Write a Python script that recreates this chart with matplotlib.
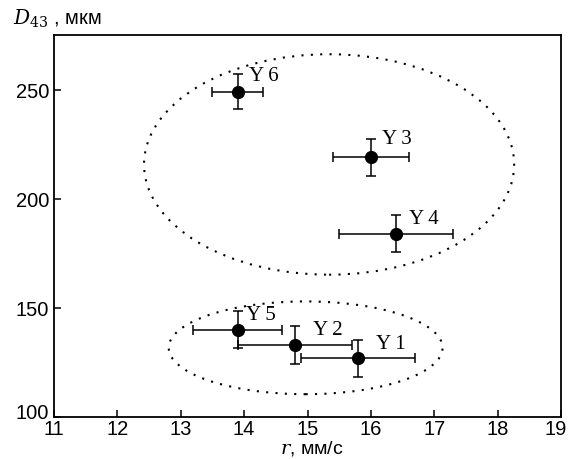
import matplotlib
matplotlib.use("Agg")
import matplotlib.pyplot as plt
from matplotlib.patches import Ellipse
import matplotlib.transforms as mtransforms

plt.rcParams['font.family'] = ['Liberation Sans', 'DejaVu Sans']
plt.rcParams['mathtext.fontset'] = 'dejavuserif'

labels = ['Y1', 'Y2', 'Y3', 'Y4', 'Y5', 'Y6']
r = [15.8, 14.8, 16.0, 16.4, 13.9, 13.9]
d43 = [127, 133, 219, 184, 140, 249]
r_lo = [14.9, 13.9, 15.4, 15.5, 13.2, 13.5]
r_hi = [16.7, 15.7, 16.6, 17.3, 14.6, 14.3]
d_err = [8.5, 8.5, 8.5, 8.5, 8.5, 8.0]
# label offsets in points from the marker centre
label_off = [(13, 4), (13, 4), (8, 7), (9, 4), (6, 4), (8, 5)]

ellipses = [
    # (cx, cy, width, height)
    (15.34, 215.7, 5.84, 101),
    (14.97, 131.7, 4.32, 42.5),
]

fig = plt.figure(figsize=(5.69, 4.6), dpi=100)
ax = fig.add_axes([0.095, 0.0913, 0.891, 0.8304])

xerr = [[x - lo for x, lo in zip(r, r_lo)], [hi - x for x, hi in zip(r, r_hi)]]
ax.errorbar(r, d43, xerr=xerr, yerr=d_err, fmt='o', color='black',
            markersize=8.5, elinewidth=1.1, capsize=3.5, capthick=1.1, zorder=3)

for lab, x, y, off in zip(labels, r, d43, label_off):
    ax.annotate(lab[0] + '\u2009' + lab[1:], (x, y), xytext=off, textcoords='offset points',
                fontsize=15, family=['Liberation Serif', 'DejaVu Serif'],
                ha='left', va='bottom')

for cx, cy, w, h in ellipses:
    ax.add_patch(Ellipse((cx, cy), w, h, fill=False, edgecolor='black',
                         linewidth=1.5, linestyle=(0, (1, 3.5))))

ax.set_xlim(11, 19)
ax.set_ylim(100, 275)
ax.set_xticks(range(11, 20))
ax.set_yticks([100, 150, 200, 250])
ax.tick_params(direction='in', length=5, width=1.1, labelsize=14.5)
ax.tick_params(axis='x', pad=1.5)
ax.tick_params(axis='y', pad=3.5)
for s in ax.spines.values():
    s.set_linewidth(1.3)

fig.canvas.draw()
# lift the bottom y tick label a little above its tick, as in the reference
lab100 = ax.get_yticklabels()[0]
lab100.set_transform(lab100.get_transform() + mtransforms.ScaledTranslation(0, 5 / 72, fig.dpi_scale_trans))
# keep the last x tick label inside the figure edge
lab19 = ax.get_xticklabels()[-1]
lab19.set_horizontalalignment('right')
lab19.set_transform(lab19.get_transform() + mtransforms.ScaledTranslation(4.5 / 72, 0, fig.dpi_scale_trans))

fig.text(0.548, 0.004, r'$r$, мм/с', fontsize=14, ha='center', va='bottom')
fig.text(0.022, 0.958, r'$D_{43}$ , мкм', fontsize=14.5, ha='left', va='center')

fig.savefig('out.png', dpi=100)
